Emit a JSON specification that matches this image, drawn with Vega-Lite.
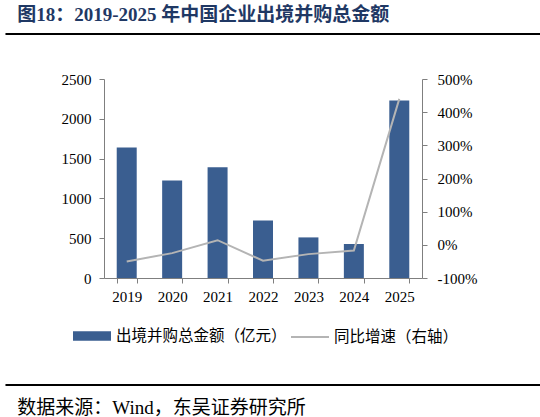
{
  "$schema": "https://vega.github.io/schema/vega-lite/v6.json",
  "padding": {"left": 4, "top": 5, "right": 4, "bottom": 0},
  "spacing": 37,
  "center": true,
  "config": {
    "view": {"stroke": null},
    "font": "Liberation Serif, Noto Sans CJK SC",
    "axis": {
      "labelFont": "Liberation Serif",
      "labelFontSize": 15,
      "labelColor": "#000000",
      "domainColor": "#7f7f7f",
      "tickColor": "#7f7f7f",
      "domainWidth": 1,
      "tickWidth": 1,
      "tickSize": 5,
      "grid": false,
      "title": null
    },
    "legend": {
      "labelFont": "Noto Sans CJK SC",
      "labelFontSize": 15,
      "labelColor": "#000000",
      "labelLimit": 400,
      "title": null,
      "padding": 0
    }
  },
  "vconcat": [
    {
      "width": 570,
      "height": 1,
      "view": {"stroke": "#000000", "strokeWidth": 1},
      "title": {
        "text": "图18：2019-2025 年中国企业出境并购总金额",
        "anchor": "start",
        "dx": 12,
        "offset": 8,
        "fontSize": 19,
        "fontWeight": "bold",
        "color": "#1f3864",
        "font": "Liberation Serif, Noto Sans CJK SC"
      },
      "data": {"values": []},
      "mark": {"type": "point"},
      "encoding": {}
    },
    {
      "width": 318,
      "height": 199,
      "data": {
        "values": [
          {"year": "2019", "amount": 1640, "growth": -50},
          {"year": "2020", "amount": 1225, "growth": -25},
          {"year": "2021", "amount": 1390, "growth": 14},
          {"year": "2022", "amount": 722, "growth": -48},
          {"year": "2023", "amount": 510, "growth": -28},
          {"year": "2024", "amount": 427, "growth": -17},
          {"year": "2025", "amount": 2230, "growth": 440}
        ]
      },
      "encoding": {
        "x": {
          "field": "year",
          "type": "ordinal",
          "scale": {"paddingInner": 0.56, "paddingOuter": 0.28},
          "axis": {
            "labelAngle": 0,
            "tickBand": "extent",
            "labelPadding": 6,
            "title": " ",
            "titleFontSize": 10,
            "titlePadding": 32
          }
        }
      },
      "layer": [
        {
          "mark": {"type": "bar"},
          "encoding": {
            "y": {
              "field": "amount",
              "type": "quantitative",
              "scale": {"domain": [0, 2500], "nice": false},
              "axis": {
                "values": [0, 500, 1000, 1500, 2000, 2500],
                "format": "d",
                "labelPadding": 8
              }
            },
            "fill": {
              "datum": "出境并购总金额（亿元）",
              "scale": {"range": ["#3a5e90"]},
              "legend": {
                "orient": "none",
                "legendX": 68,
                "legendY": 284,
                "symbolType": "M-1,-0.25H1V0.25H-1Z",
                "symbolSize": 1444,
                "symbolStrokeWidth": 0,
                "symbolOpacity": 1,
                "labelOffset": 5,
                "labelFontSize": 15.5
              }
            }
          }
        },
        {
          "mark": {"type": "line", "strokeWidth": 2},
          "encoding": {
            "y": {
              "field": "growth",
              "type": "quantitative",
              "scale": {"domain": [-100, 500], "nice": false},
              "axis": {
                "orient": "right",
                "values": [-100, 0, 100, 200, 300, 400, 500],
                "labelExpr": "datum.value + '%'",
                "labelPadding": 10
              }
            },
            "stroke": {
              "datum": "同比增速（右轴）",
              "scale": {"range": ["#b4b4b4"]},
              "legend": {
                "orient": "none",
                "legendX": 285,
                "legendY": 284,
                "symbolType": "stroke",
                "symbolSize": 1444,
                "symbolStrokeWidth": 2,
                "labelOffset": 4,
                "labelFontSize": 15.5
              }
            }
          }
        }
      ],
      "resolve": {"scale": {"y": "independent"}}
    },
    {
      "width": 570,
      "height": 1,
      "view": {"stroke": "#000000", "strokeWidth": 1},
      "title": {
        "text": "数据来源：Wind，东吴证券研究所",
        "orient": "bottom",
        "anchor": "start",
        "dx": 12,
        "offset": 14,
        "fontSize": 19,
        "fontWeight": "normal",
        "color": "#000000",
        "font": "Liberation Serif, Noto Sans CJK SC"
      },
      "data": {"values": []},
      "mark": {"type": "point"},
      "encoding": {}
    }
  ]
}
